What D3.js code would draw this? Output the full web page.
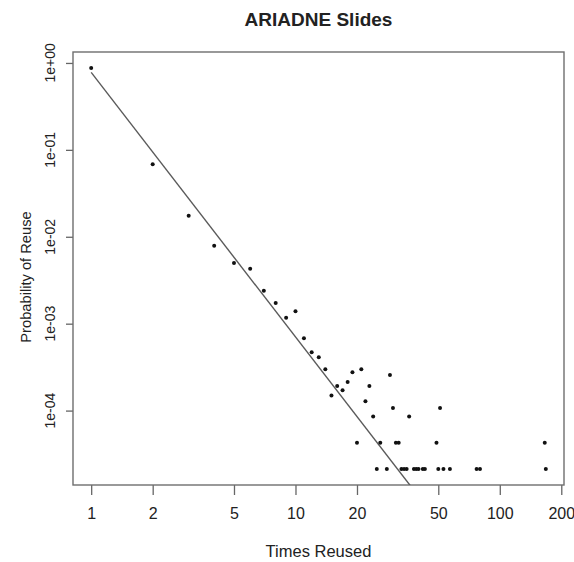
<!DOCTYPE html>
<html>
<head>
<meta charset="utf-8">
<script src="https://cdnjs.cloudflare.com/ajax/libs/d3/7.8.5/d3.min.js"></script>
<style>
  body { margin: 0; background: #fff; }
  text { font-family: "Liberation Sans", Arial, sans-serif; fill: #222; }
</style>
</head>
<body>
<div id="scatter"></div>
<script>
// data
var timesReused = [1, 2, 3, 4, 5, 6, 7, 8, 9, 10, 11, 12, 13, 14, 15, 16, 17, 18, 19, 20,
  21, 22, 23, 24, 25, 26, 28, 29, 30, 31, 32, 33, 34, 35, 36, 38, 39, 40, 42, 43,
  49, 50, 51, 53, 57, 77, 80, 166, 168];
var probability = [0.874, 0.0682, 0.0175, 0.0079, 0.0050, 0.0043, 0.0024, 0.00173, 0.00117, 0.00139,
  0.00068, 0.00047, 0.00041, 0.00030, 0.000149, 0.000192, 0.000171, 0.000213, 0.000277, 0.0000426,
  0.000299, 0.000128, 0.000192, 0.0000853, 0.0000213, 0.0000426, 0.0000213, 0.000256, 0.000107, 0.0000426,
  0.0000426, 0.0000213, 0.0000213, 0.0000213, 0.0000853, 0.0000213, 0.0000213, 0.0000213, 0.0000213, 0.0000213,
  0.0000426, 0.0000213, 0.000107, 0.0000213, 0.0000213, 0.0000213, 0.0000213, 0.0000426, 0.0000213];
// fitted power law line, end points
var fitX = [1, 168];
var fitY = [0.78, 1.31e-7];
var xTicks = [1, 2, 5, 10, 20, 50, 100, 200];
var yTicks = [1, 0.1, 0.01, 0.001, 0.0001];
var yTickLabels = ["1e+00", "1e-01", "1e-02", "1e-03", "1e-04"];

var svgWidth = 574;
var svgHeight = 562;
var margin = { top: 52, right: 10, bottom: 77, left: 73 };
var width = svgWidth - margin.left - margin.right;
var height = svgHeight - margin.top - margin.bottom;

var svg = d3.select("#scatter")
  .append("svg")
  .attr("width", svgWidth)
  .attr("height", svgHeight);

var chartGroup = svg.append("g")
  .attr("transform", `translate(${margin.left}, ${margin.top})`);

var points = timesReused.map(function(x, i) { return { x: x, y: probability[i] }; });

// R style limits: data range padded 4% on each side in log space
function padLog(lo, hi) {
  var a = Math.log10(lo), b = Math.log10(hi), p = (b - a) * 0.04;
  return [Math.pow(10, a - p), Math.pow(10, b + p)];
}

var xLogScale = d3.scaleLog()
  .domain(padLog(d3.min(timesReused), d3.max(timesReused)))
  .range([0, width]);

var yLogScale = d3.scaleLog()
  .domain(padLog(d3.min(probability), d3.max(probability)))
  .range([height, 0]);

// axes
var bottomAxis = d3.axisBottom(xLogScale)
  .tickValues(xTicks)
  .tickFormat(d3.format("d"))
  .tickSize(10)
  .tickPadding(13);

var leftAxis = d3.axisLeft(yLogScale)
  .tickValues(yTicks)
  .tickSize(7)
  .tickFormat("");

var xAxisG = chartGroup.append("g")
  .attr("transform", `translate(0, ${height})`)
  .call(bottomAxis);
xAxisG.select(".domain").remove();
xAxisG.selectAll("line").attr("stroke", "#666").attr("stroke-width", 1.3);
xAxisG.selectAll("text")
  .style("font-size", "16px")
  .style("font-family", "'Liberation Sans', Arial, sans-serif")
  .attr("fill", "#222");

var yAxisG = chartGroup.append("g").call(leftAxis);
yAxisG.select(".domain").remove();
yAxisG.selectAll("line").attr("stroke", "#666").attr("stroke-width", 1.3);

chartGroup.selectAll(".ylab")
  .data(yTicks)
  .enter()
  .append("text")
  .attr("class", "ylab")
  .attr("transform", (d, i) => `translate(${55 - margin.left}, ${yLogScale(d)}) rotate(-90)`)
  .attr("text-anchor", "middle")
  .style("font-size", "14px")
  .text((d, i) => yTickLabels[i]);

// plot box
chartGroup.append("rect")
  .attr("width", width)
  .attr("height", height)
  .attr("fill", "none")
  .attr("stroke", "#6e6e6e")
  .attr("stroke-width", 1.4);

// clip for the fit line
chartGroup.append("clipPath")
  .attr("id", "plotclip")
  .append("rect")
  .attr("width", width)
  .attr("height", height);

var fitLine = d3.line()
  .x(d => xLogScale(d[0]))
  .y(d => yLogScale(d[1]));

chartGroup.append("path")
  .datum(fitX.map((x, i) => [x, fitY[i]]))
  .attr("d", fitLine)
  .attr("clip-path", "url(#plotclip)")
  .attr("fill", "none")
  .attr("stroke", "#5a5a5a")
  .attr("stroke-width", 1.4);

chartGroup.selectAll("circle")
  .data(points)
  .enter()
  .append("circle")
  .attr("cx", d => xLogScale(d.x))
  .attr("cy", d => yLogScale(d.y))
  .attr("r", 2)
  .attr("fill", "#111");

// title and axis labels
svg.append("text")
  .attr("x", margin.left + width / 2)
  .attr("y", 26)
  .attr("text-anchor", "middle")
  .style("font-size", "19px")
  .style("font-weight", "bold")
  .text("ARIADNE Slides");

svg.append("text")
  .attr("x", margin.left + width / 2)
  .attr("y", 557)
  .attr("text-anchor", "middle")
  .style("font-size", "16.5px")
  .text("Times Reused");

svg.append("text")
  .attr("transform", `translate(31, 277) rotate(-90)`)
  .attr("text-anchor", "middle")
  .style("font-size", "14.7px")
  .text("Probability of Reuse");
</script>
</body>
</html>
